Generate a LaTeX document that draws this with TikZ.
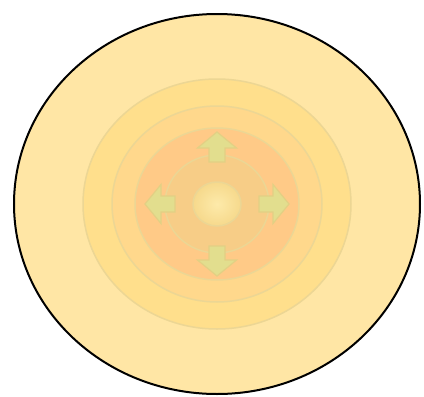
\documentclass[tikz,border=0pt]{standalone}
\usepackage{xcolor}
\usepackage{tikz}
\definecolor{paper}{RGB}{255,230,165}
\definecolor{ringa}{RGB}{255,223,140}
\definecolor{ringb}{RGB}{255,216,140}
\definecolor{ringc}{RGB}{255,202,135}
\definecolor{ringd}{RGB}{247,205,135}
\definecolor{corein}{RGB}{253,234,170}
\definecolor{coreout}{RGB}{246,217,140}
\definecolor{rim}{RGB}{236,214,148}
\definecolor{push}{RGB}{226,222,142}
\definecolor{pushrim}{RGB}{226,208,132}

\begin{document}
\begin{tikzpicture}[x=1pt, y=-1pt,
  layer/.style={draw=rim, line width=1.5pt},
  pusharrow/.style={fill=push, draw=pushrim, line width=1.2pt, line join=miter}
]
\useasboundingbox (0,0) rectangle (424,397);
\coordinate (c) at (217,204);
% outer boundary
\draw[fill=paper, line width=2pt] (c) ellipse [x radius=203, y radius=190];
% nested layers
\draw[layer, fill=ringa] (c) ellipse [x radius=134, y radius=125];
\draw[layer, fill=ringb] (c) ellipse [x radius=105, y radius=98];
\draw[layer, fill=ringc] (c) ellipse [x radius=82, y radius=76];
\draw[layer, fill=ringd] (c) ellipse [x radius=52, y radius=49];
\draw[layer, inner color=corein, outer color=coreout] (c) ellipse [x radius=24, y radius=22];
% outward arrows
\foreach \a in {0,90,180,270}
  \draw[pusharrow, shift={(c)}, rotate=\a]
    (42,-8) -- (56,-8) -- (56,-19.5) -- (72,0) -- (56,19.5) -- (56,8) -- (42,8) -- cycle;
\end{tikzpicture}
\end{document}
